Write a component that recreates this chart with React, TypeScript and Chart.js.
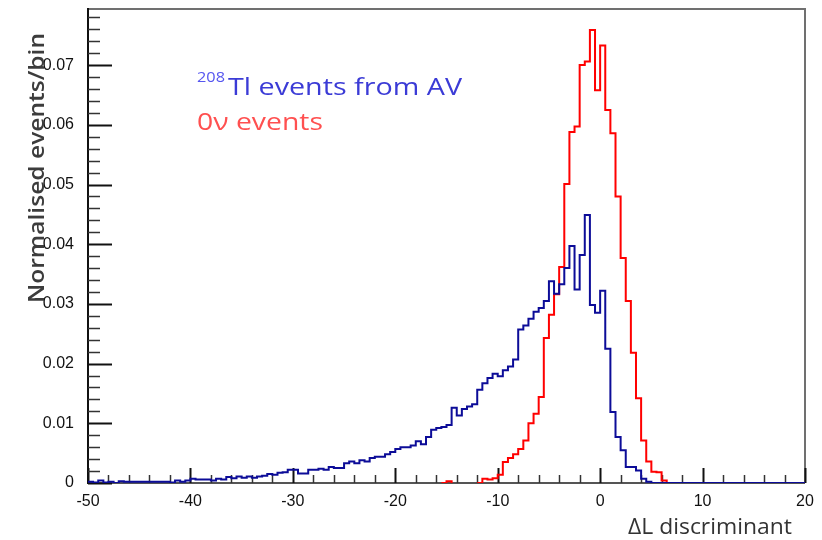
import React, { useEffect, useRef } from 'react';
import { Chart, registerables } from 'chart.js';

Chart.register(...registerables);

// ---- axis ranges / binning ----
const X_MIN = -50;
const X_MAX = 20;
const BIN_WIDTH = 0.5;
const Y_MAX = 0.0794;
const X_TICK_STEP = 10;
const Y_TICK_STEP = 0.01;
const X_MINOR_STEP = 2;
const Y_MINOR_STEP = 0.002;

// ---- labels ----
const X_TITLE = 'ΔL discriminant';
const Y_TITLE = 'Normalised events/bin';
const TL_SUP = '208';
const TL_LABEL = 'Tl events from AV';
const NU_LABEL = '0ν events';

// ---- 208Tl events from AV (blue), bins of 0.5 starting at -50 ----
const TL_START = -50;
const tl208Values = [
  0.0002, 0.0001, 0.0004, 0.0001, 0.0002, 0.0000, 0.0003, 0.0002, 0.0002, 0.0002,
  0.0002, 0.0002, 0.0002, 0.0002, 0.0002, 0.0002, 0.0001, 0.0004, 0.0002, 0.0004,
  0.0007, 0.0006, 0.0006, 0.0006, 0.0004, 0.0007, 0.0006, 0.0010, 0.0008, 0.0011,
  0.0009, 0.0011, 0.0009, 0.0011, 0.0012, 0.0015, 0.0014, 0.0017, 0.0018, 0.0022,
  0.0022, 0.0016, 0.0016, 0.0022, 0.0022, 0.0024, 0.0022, 0.0027, 0.0025, 0.0025,
  0.0033, 0.0036, 0.0033, 0.0038, 0.0036, 0.0042, 0.0044, 0.0044, 0.0048, 0.0052,
  0.0057, 0.0060, 0.0060, 0.0063, 0.0070, 0.0065, 0.0077, 0.0089, 0.0092, 0.0094,
  0.0097, 0.0126, 0.0113, 0.0124, 0.0128, 0.0132, 0.0156, 0.0167, 0.0176, 0.0183,
  0.0179, 0.0189, 0.0195, 0.0207, 0.0257, 0.0264, 0.0275, 0.0287, 0.0293, 0.0305,
  0.0338, 0.0317, 0.0333, 0.0360, 0.0397, 0.0324, 0.0382, 0.0449, 0.0298, 0.0285,
  0.0322, 0.0225, 0.0119, 0.0077, 0.0055, 0.0027, 0.0027, 0.0021, 0.0007, 0.0002,
];

// ---- 0ν events (red), bins of 0.5 starting at -15 ----
const NU_START = -15;
const zeroNuValues = [
  0.0003, 0, 0, 0, 0, 0, 0,
  0.0007, 0.0006, 0.0008, 0.0014, 0.0035, 0.0042, 0.0048, 0.0057, 0.0071, 0.0100,
  0.0116, 0.0144, 0.0243, 0.0282, 0.0316, 0.0362, 0.0501, 0.0588, 0.0597, 0.0700,
  0.0706, 0.0759, 0.0658, 0.0733, 0.0625, 0.0586, 0.0480, 0.0377, 0.0305, 0.0218,
  0.0142, 0.0071, 0.0036, 0.0019, 0.0018, 0.0004,
];

const TL_COLOR = '#0c0c98';
const NU_COLOR = '#ff0000';

function buildSteps(start: number, values: number[]) {
  const n = Math.round((X_MAX - X_MIN) / BIN_WIDTH);
  const offset = Math.round((start - X_MIN) / BIN_WIDTH);
  const pts: { x: number; y: number }[] = [];
  for (let i = 0; i < n; i++) {
    const j = i - offset;
    const y = j >= 0 && j < values.length ? values[j] : 0;
    pts.push({ x: X_MIN + i * BIN_WIDTH, y });
  }
  pts.push({ x: X_MAX, y: pts[pts.length - 1].y });
  return pts;
}

// draws text stretched horizontally (along its own direction) to a target width
function fitText(ctx: CanvasRenderingContext2D, text: string, font: string, width: number, align: CanvasTextAlign) {
  ctx.font = font;
  const w = ctx.measureText(text).width || 1;
  ctx.save();
  ctx.scale(width / w, 1);
  ctx.textAlign = align;
  ctx.textBaseline = 'alphabetic';
  ctx.fillText(text, 0, 0);
  ctx.restore();
}

const rootFrame = {
  id: 'rootFrame',
  beforeDatasetsDraw(chart: any) {
    const { ctx, chartArea, scales } = chart;
    const { left, right, top, bottom } = chartArea;
    const xs = scales.x;
    const ys = scales.y;
    ctx.save();
    ctx.strokeStyle = '#707070';
    ctx.lineWidth = 2;
    ctx.beginPath();
    ctx.moveTo(left, top);
    ctx.lineTo(right, top);
    ctx.lineTo(right, bottom);
    ctx.stroke();
    ctx.strokeStyle = '#555555';
    ctx.beginPath();
    ctx.moveTo(left, bottom);
    ctx.lineTo(right, bottom);
    ctx.stroke();
    ctx.strokeStyle = '#111111';
    ctx.beginPath();
    ctx.moveTo(left, top - 1);
    ctx.lineTo(left, bottom + 1);
    ctx.stroke();

    const nx = Math.round((X_MAX - X_MIN) / X_MINOR_STEP);
    const perMajorX = Math.round(X_TICK_STEP / X_MINOR_STEP);
    for (let k = 0; k <= nx; k++) {
      const v = X_MIN + k * X_MINOR_STEP;
      const px = Math.round(xs.getPixelForValue(v)) + 0.5;
      const major = k % perMajorX === 0;
      ctx.strokeStyle = major ? '#111' : '#333';
      ctx.lineWidth = major ? 2 : 1.5;
      ctx.beginPath();
      ctx.moveTo(px, bottom);
      ctx.lineTo(px, bottom - (major ? 15 : 8));
      ctx.stroke();
    }
    const perMajorY = Math.round(Y_TICK_STEP / Y_MINOR_STEP);
    for (let k = 0; k * Y_MINOR_STEP <= Y_MAX + 1e-9; k++) {
      const v = k * Y_MINOR_STEP;
      const py = Math.round(ys.getPixelForValue(v)) + 0.5;
      const major = k % perMajorY === 0;
      ctx.strokeStyle = major ? '#111' : '#333';
      ctx.lineWidth = major ? 2 : 1.5;
      ctx.beginPath();
      ctx.moveTo(left, py);
      ctx.lineTo(left + (major ? 24 : 12), py);
      ctx.stroke();
    }
    ctx.restore();
  },
  afterDraw(chart: any) {
    const { ctx } = chart;
    ctx.save();
    // y title
    ctx.save();
    ctx.translate(44, 33);
    ctx.rotate(-Math.PI / 2);
    ctx.fillStyle = '#3c3c3c';
    fitText(ctx, Y_TITLE, '600 22px "Open Sans"', 270, 'right');
    ctx.restore();

    // x title
    ctx.save();
    ctx.translate(792, 534);
    ctx.fillStyle = '#333333';
    fitText(ctx, X_TITLE, '22px "Open Sans"', 164, 'right');
    ctx.restore();

    // legend texts
    ctx.save();
    ctx.translate(197, 82);
    ctx.fillStyle = '#5656f0';
    fitText(ctx, TL_SUP, '14px "Open Sans"', 28, 'left');
    ctx.restore();

    ctx.save();
    ctx.translate(228, 95);
    ctx.fillStyle = '#3b3bd6';
    fitText(ctx, TL_LABEL, '24px "Open Sans"', 234, 'left');
    ctx.restore();

    ctx.save();
    ctx.translate(197, 129.5);
    ctx.fillStyle = '#ff5050';
    fitText(ctx, NU_LABEL, '24px "Open Sans"', 126, 'left');
    ctx.restore();
    ctx.restore();
  },
};

export default function App() {
  const canvasRef = useRef<HTMLCanvasElement | null>(null);

  useEffect(() => {
    const canvas = canvasRef.current;
    if (!canvas) return;
    const hideZero = (c: any) =>
      c.p0.parsed.y === 0 && c.p1.parsed.y === 0 ? 'rgba(0,0,0,0)' : undefined;
    const chart = new Chart(canvas, {
      type: 'line',
      data: {
        datasets: [
          {
            label: '208Tl events from AV',
            data: buildSteps(TL_START, tl208Values),
            borderColor: TL_COLOR,
            borderWidth: 2,
            stepped: true,
            pointRadius: 0,
            fill: false,
          },
          {
            label: '0ν events',
            data: buildSteps(NU_START, zeroNuValues),
            borderColor: NU_COLOR,
            borderWidth: 2,
            stepped: true,
            pointRadius: 0,
            fill: false,
            segment: { borderColor: hideZero },
          },
        ],
      },
      options: {
        animation: false,
        responsive: false,
        devicePixelRatio: 1,
        layout: { padding: { left: 0, top: 9, right: 17, bottom: 0 } },
        plugins: {
          legend: { display: false },
          tooltip: { enabled: false },
        },
        scales: {
          x: {
            type: 'linear',
            min: X_MIN,
            max: X_MAX,
            grid: { display: false },
            border: { display: false },
            ticks: {
              stepSize: X_TICK_STEP,
              includeBounds: false,
              maxRotation: 0,
              autoSkip: false,
              padding: 1,
              color: '#111',
              font: { family: 'Liberation Sans', size: 16 },
            },
            afterFit: (s: any) => {
              s.height = 57;
              s.paddingLeft = 0;
              s.paddingRight = 0;
            },
          },
          y: {
            type: 'linear',
            min: 0,
            max: Y_MAX,
            grid: { display: false },
            border: { display: false },
            ticks: {
              stepSize: Y_TICK_STEP,
              includeBounds: false,
              padding: 6,
              color: '#111',
              font: { family: 'Liberation Sans', size: 16 },
              callback: (v: any) => (Number(v) === 0 ? '0' : Number(v).toFixed(2)),
            },
            afterFit: (s: any) => {
              s.width = 88;
              s.paddingTop = 0;
              s.paddingBottom = 0;
            },
          },
        },
      },
      plugins: [rootFrame],
    });
    return () => chart.destroy();
  }, []);

  return (
    <div style={{ position: 'absolute', left: 0, top: 0, width: 822, height: 540, background: '#fff' }}>
      <canvas ref={canvasRef} width={822} height={540} />
    </div>
  );
}
